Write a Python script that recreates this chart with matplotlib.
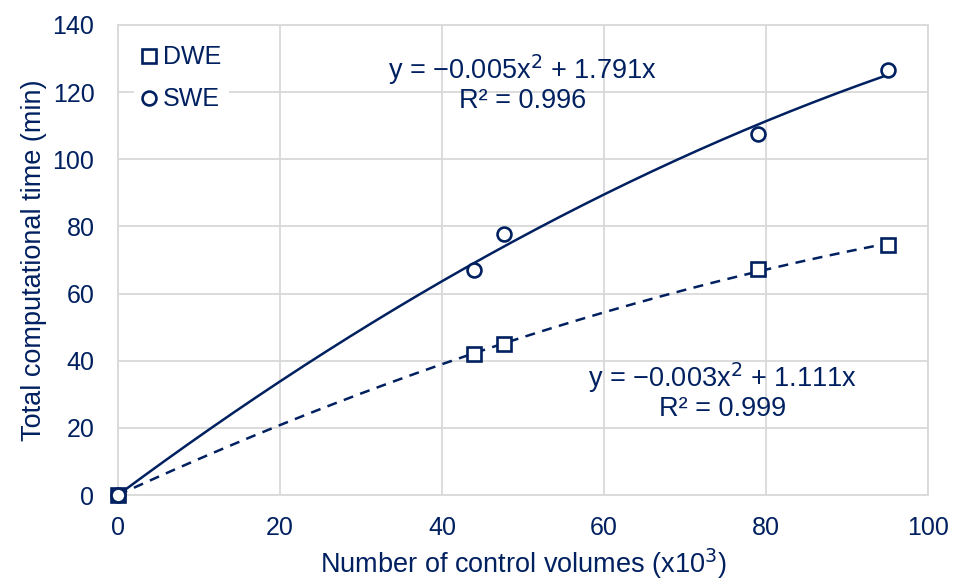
import numpy as np
import matplotlib.pyplot as plt

plt.rcParams['font.family'] = ['Liberation Sans', 'DejaVu Sans']

navy = '#002060'
grid_gray = '#d9d9d9'

# control volumes (x10^3) and computational time (min)
cv = [0, 44, 47.6, 79, 95]
dwe_time = [0, 42, 45, 67.3, 74.5]
swe_time = [0, 67, 77.7, 107.5, 126.6]

dwe_eq = ["y = \u22120.003x$^2$ + 1.111x", "R\u00b2 = 0.999"]
swe_eq = ["y = \u22120.005x$^2$ + 1.791x", "R\u00b2 = 0.996"]


def quad_fit(x, y):
    # least-squares quadratic through the origin, like an Excel trendline with intercept 0
    x = np.asarray(x, float)
    A = np.column_stack([x**2, x])
    coef, *_ = np.linalg.lstsq(A, np.asarray(y, float), rcond=None)
    xs = np.linspace(0, x.max(), 200)
    return xs, coef[0]*xs**2 + coef[1]*xs


fig = plt.figure(figsize=(9.57, 5.81), dpi=100)
ax = fig.add_axes([0.1233, 0.148, 0.8464, 0.809])

xs, ys = quad_fit(cv, swe_time)
ax.plot(xs, ys, color=navy, lw=1.8, zorder=2)
xs, ys = quad_fit(cv, dwe_time)
ax.plot(xs, ys, color=navy, lw=1.8, ls=(0, (4, 3)), zorder=2)

ax.plot(cv, dwe_time, ls='none', marker='s', ms=10.5, mfc='white', mec=navy, mew=1.9,
        label='DWE', zorder=3, clip_on=False)
ax.plot(cv, swe_time, ls='none', marker='o', ms=10, mfc='white', mec=navy, mew=1.9,
        label='SWE', zorder=3, clip_on=False)

ax.set_xlim(0, 100)
ax.set_ylim(0, 140)
ax.set_xticks(np.arange(0, 101, 20))
ax.set_yticks(np.arange(0, 141, 20))
ax.grid(color=grid_gray, lw=1.3)
ax.set_axisbelow(True)
for s in ax.spines.values():
    s.set_color(grid_gray)
    s.set_linewidth(1.3)
ax.tick_params(length=0, labelsize=18, labelcolor=navy)
ax.tick_params(axis='x', pad=15)
ax.tick_params(axis='y', pad=17)

ax.set_xlabel("Number of control volumes (x10$^3$)", fontsize=19.5, color=navy, labelpad=5)
ax.set_ylabel("Total computational time (min)", fontsize=19.5, color=navy, labelpad=4)

leg = ax.legend(loc='upper left', bbox_to_anchor=(0.009, 0.991), frameon=True, fontsize=18,
                handlelength=0.6, handletextpad=0.26, borderaxespad=0.35,
                labelspacing=0.72, borderpad=0.3)
leg.get_frame().set_edgecolor('none')
leg.get_frame().set_facecolor('white')
leg.get_frame().set_alpha(1)
for t in leg.get_texts():
    t.set_color(navy)

ax.text(49.9, 126.6, swe_eq[0], fontsize=19.5, color=navy, ha='center', va='center')
ax.text(49.9, 117.4, swe_eq[1], fontsize=19.5, color=navy, ha='center', va='center')
ax.text(74.6, 34.85, dwe_eq[0], fontsize=19.5, color=navy, ha='center', va='center')
ax.text(74.6, 25.6, dwe_eq[1], fontsize=19.5, color=navy, ha='center', va='center')

fig.savefig("out.png", dpi=100)
